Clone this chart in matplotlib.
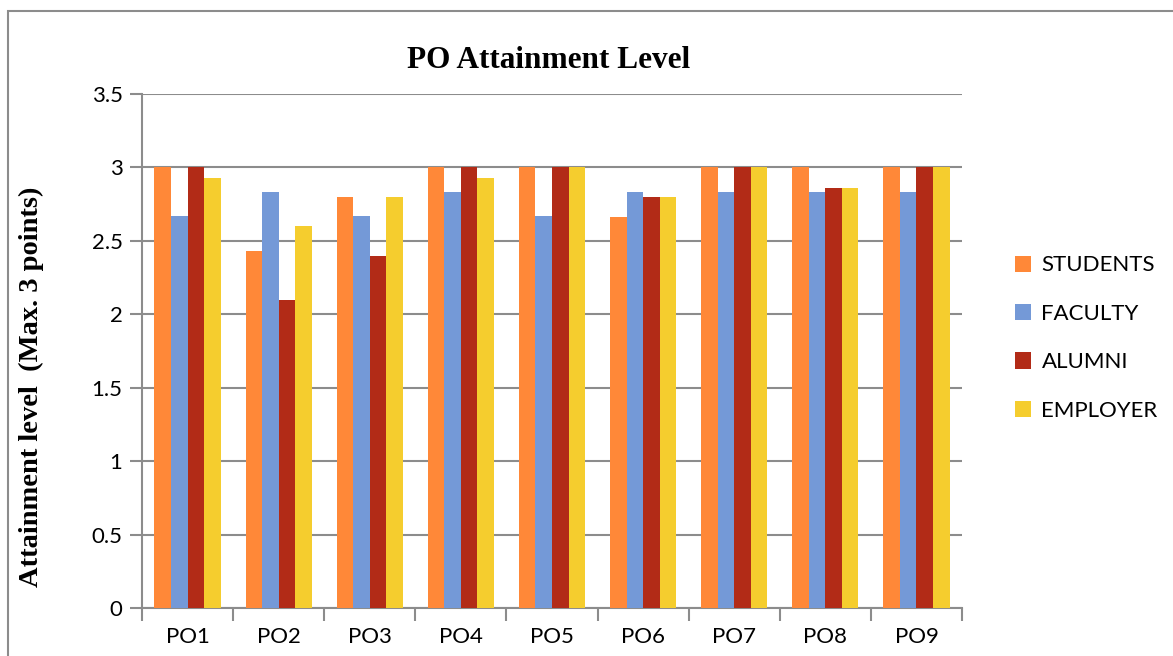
import matplotlib.pyplot as plt
import numpy as np
from matplotlib.patches import Rectangle

categorias = ['PO1', 'PO2', 'PO3', 'PO4', 'PO5', 'PO6', 'PO7', 'PO8', 'PO9']
students = [3.0, 2.43, 2.8, 3.0, 3.0, 2.66, 3.0, 3.0, 3.0]
faculty = [2.67, 2.83, 2.67, 2.83, 2.67, 2.83, 2.83, 2.83, 2.83]
alumni = [3.0, 2.1, 2.4, 3.0, 3.0, 2.8, 3.0, 2.86, 3.0]
employer = [2.93, 2.6, 2.8, 2.93, 3.0, 2.8, 3.0, 2.86, 3.0]

series = [('STUDENTS', students, '#FF8838'),
          ('FACULTY', faculty, '#7499D7'),
          ('ALUMNI', alumni, '#B22B17'),
          ('EMPLOYER', employer, '#F5CD2E')]

fig = plt.figure(figsize=(11.73, 6.56), dpi=100)
ax = fig.add_axes([142 / 1173, 1 - 608 / 656, (962 - 142) / 1173, (608 - 94) / 656])

# borde exterior del gráfico
fig.patches.append(Rectangle((8 / 1173, -0.1), 1.2, (656 - 11) / 656 + 0.1,
                             transform=fig.transFigure, fill=False,
                             edgecolor='#8C8C8C', linewidth=1.5))

x = np.arange(len(categorias))
ancho = 0.182
for i, (nombre, valores, color) in enumerate(series):
    ax.bar(x + (i - 1.5) * ancho, valores, width=ancho, color=color,
           label=nombre, zorder=3)

ax.set_xlim(-0.5, len(categorias) - 0.5)
ax.set_ylim(0, 3.5)
ax.set_yticks(np.arange(0, 3.51, 0.5))
ax.set_yticklabels(['0', '0.5', '1', '1.5', '2', '2.5', '3', '3.5'])
ax.yaxis.grid(True, color='#8C8C8C', linewidth=1.5, zorder=0)

ax.set_xticks(x)
ax.set_xticklabels(categorias)
ax.set_xticks(np.arange(-0.5, len(categorias)), minor=True)
ax.tick_params(axis='x', which='major', length=0, pad=14)
ax.tick_params(axis='x', which='minor', length=9, color='#8C8C8C', width=1.5)
ax.tick_params(axis='y', length=9, color='#8C8C8C', width=1.5, pad=5)
for lab in ax.get_xticklabels() + ax.get_yticklabels():
    lab.set_fontfamily('Lato')
    lab.set_fontsize(16)

for lado in ['top', 'right']:
    ax.spines[lado].set_visible(False)
for lado in ['left', 'bottom']:
    ax.spines[lado].set_color('#8C8C8C')
    ax.spines[lado].set_linewidth(1.5)

fig.text(549 / 1173, 1 - 60 / 656, 'PO Attainment Level', ha='center', va='center',
         fontfamily='Liberation Serif', fontweight='bold', fontsize=22.5)
fig.text(31 / 1173, 1 - 387 / 656, 'Attainment level  (Max. 3 points)', rotation=90,
         ha='center', va='center', fontfamily='Liberation Serif',
         fontweight='bold', fontsize=20.5)

ax.legend(loc='center left', bbox_to_anchor=(1.04, 0.525), frameon=False,
          prop={'family': 'Lato', 'size': 16}, handlelength=0.75, handleheight=0.75,
          handletextpad=0.45, labelspacing=1.28)

plt.savefig('out.png', dpi=100)
